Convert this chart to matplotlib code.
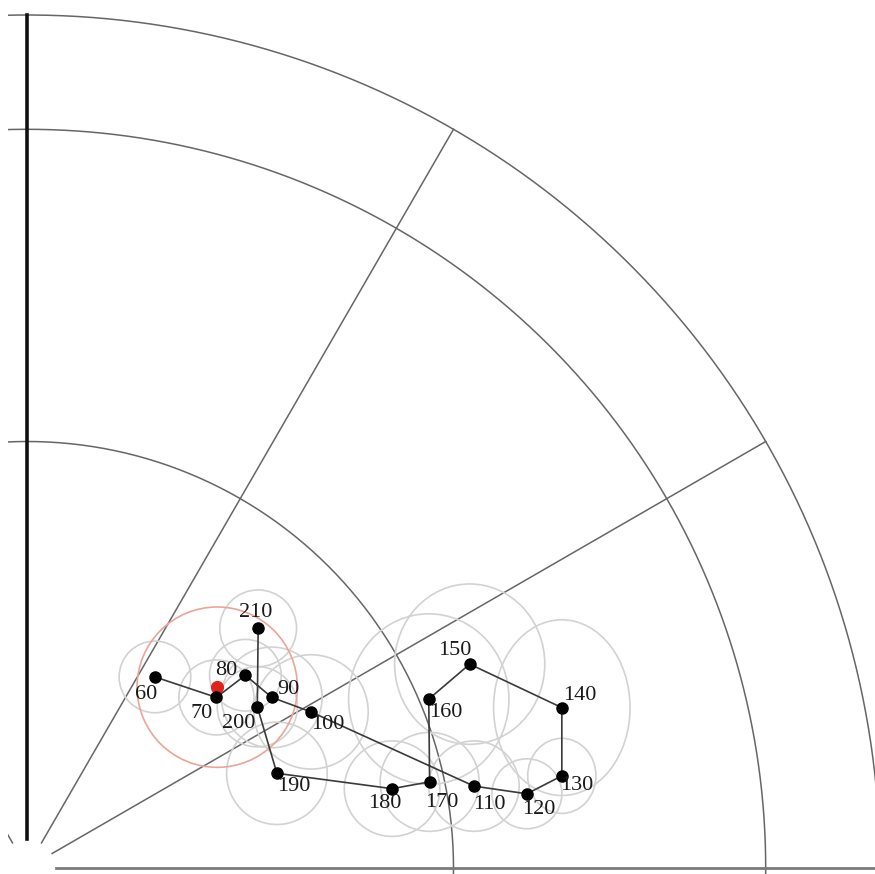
import numpy as np
import matplotlib.pyplot as plt
from matplotlib.patches import Ellipse

# Track positions on a unit sky disc (east, north components)
labels = [60, 70, 80, 90, 100, 110, 120, 130, 140, 150, 160, 170, 180, 190, 200, 210]
east = [0.150, 0.222, 0.256, 0.287, 0.333, 0.524, 0.586, 0.627, 0.627,
        0.519, 0.471, 0.472, 0.428, 0.293, 0.270, 0.271]
north = [0.224, 0.200, 0.226, 0.200, 0.183, 0.096, 0.087, 0.108, 0.188,
         0.239, 0.198, 0.101, 0.093, 0.111, 0.189, 0.281]
# Error ellipse half-widths / half-heights
err_e = [0.042, 0.044, 0.042, 0.059, 0.067, 0.053, 0.041, 0.040, 0.080,
         0.088, 0.094, 0.058, 0.056, 0.059, 0.047, 0.045]
err_n = [0.042, 0.044, 0.042, 0.059, 0.067, 0.053, 0.041, 0.044, 0.103,
         0.094, 0.100, 0.058, 0.056, 0.060, 0.047, 0.045]

# Reference source and its error circle
ref_east, ref_north, ref_err = 0.223, 0.212, 0.094

# Label offsets in pixels (dx, dy with y up)
label_dx = [-9, -15, -19, 17, 17, 15, 12, 15, 18, -15, 17, 12, -7, 17, -19, -2]
label_dy = [-18, -16, 5, 8, -13, -18, -16, -10, 12, 14, -13, -21, -15, -13, -17, 16]

# Grid: rings at cos(elevation) for 60, 30, 0 deg; spokes every 30 deg
ring_radii = [0.5, 0.866, 1.0]
spoke_angles = [0, 30, 60, 120, 150]

scale = 853.0
fig = plt.figure(figsize=(8.75, 8.74), dpi=100)
ax = fig.add_axes([8 / 875, 0, 867 / 875, 1])
ax.set_xlim((8 - 27) / scale, (875 - 27) / scale)
ax.set_ylim((868 - 874) / scale, 868 / scale)
ax.set_aspect("equal")
ax.axis("off")

grid_col = "#666666"
t = np.linspace(0, 2 * np.pi, 720)
for r in ring_radii:
    ax.plot(r * np.cos(t), r * np.sin(t), color=grid_col, lw=1.1, zorder=1)

r0 = 0.034
for a in spoke_angles:
    th = np.deg2rad(a)
    ax.plot([r0 * np.cos(th), np.cos(th)], [r0 * np.sin(th), np.sin(th)],
            color="#7a7a7a" if a == 0 else grid_col,
            lw=2.0 if a == 0 else 1.1, zorder=1)
# north line
ax.plot([0, 0], [r0, 1.0], color="#111111", lw=2.6, zorder=1)

# error ellipses
for x, y, w, h in zip(east, north, err_e, err_n):
    ax.add_patch(Ellipse((x, y), 2 * w, 2 * h, fill=False,
                         edgecolor="#d2d2d2", lw=1.2, zorder=2))
ax.add_patch(Ellipse((ref_east, ref_north), 2 * ref_err, 2 * ref_err,
                     fill=False, edgecolor="#eba597", lw=1.2, zorder=2))

# track
ax.plot(east, north, color="#3a3a3a", lw=1.2, zorder=3)
ax.plot(ref_east, ref_north, "o", color="#e0241b", ms=8.5, zorder=4)
ax.plot(east, north, "o", color="black", ms=8, lw=0, zorder=5)

for x, y, lab, dx, dy in zip(east, north, labels, label_dx, label_dy):
    ax.annotate(str(lab), (x, y), xytext=(dx, dy), textcoords="offset pixels",
                ha="center", va="center", fontsize=16, color="#1a1a1a",
                family="Liberation Serif", zorder=6)

fig.savefig("out.png", dpi=100)
